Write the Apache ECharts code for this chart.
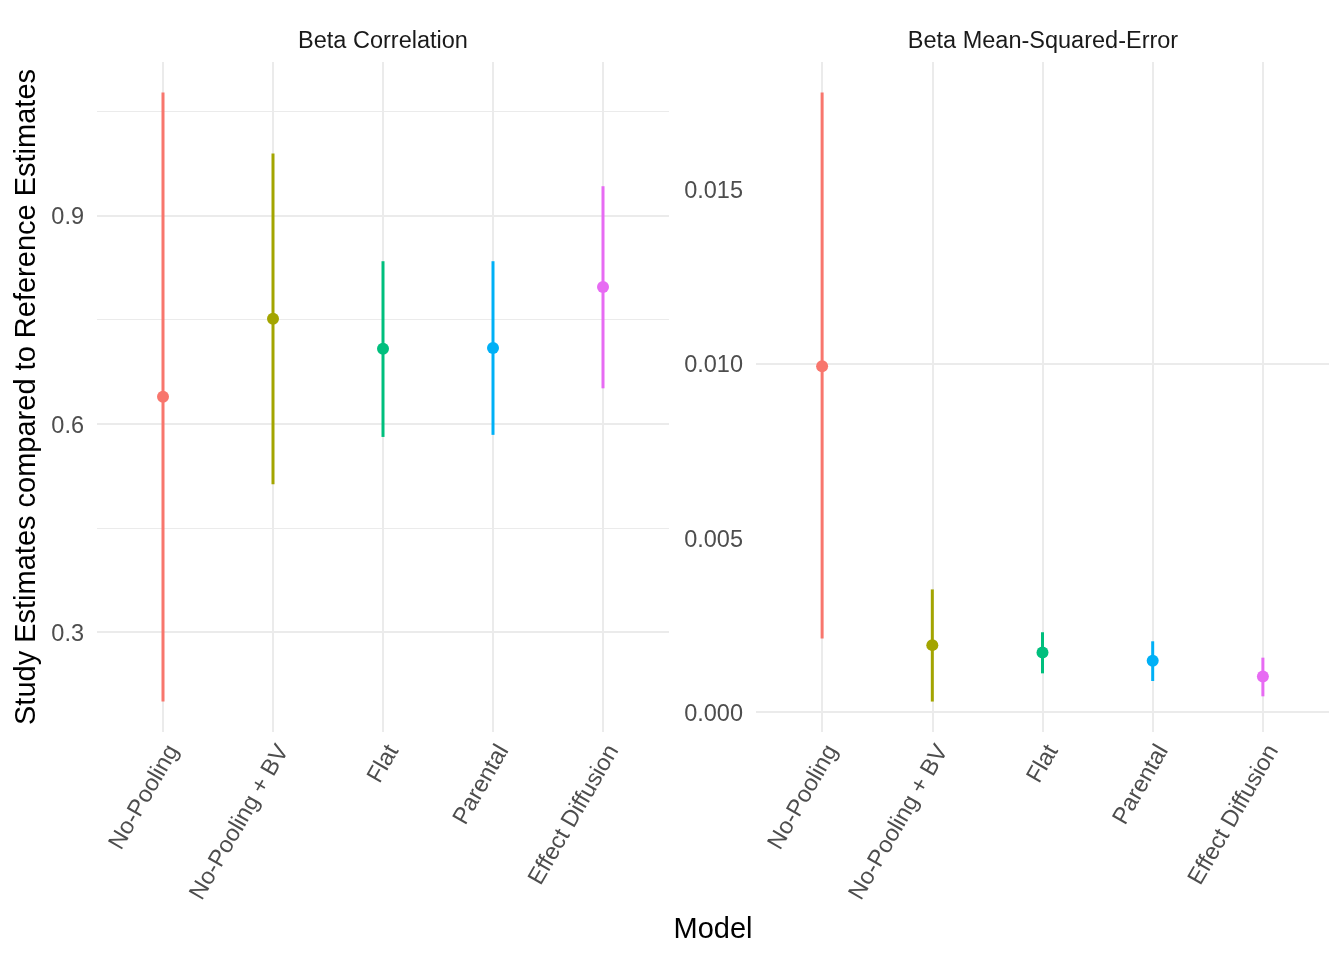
<!DOCTYPE html>
<html>
<head>
<meta charset="utf-8">
<script src="https://cdn.jsdelivr.net/npm/echarts@6/dist/echarts.min.js"></script>
<style>
  html, body { margin: 0; padding: 0; background: #fff; }
  #main { width: 1344px; height: 960px; }
</style>
</head>
<body>
<div id="main"></div>
<script>
// models, in facet order
var categories = ['No-Pooling', 'No-Pooling + BV', 'Flat', 'Parental', 'Effect Diffusion'];
var modelColors = ['#F8766D', '#A3A500', '#00BF7D', '#00B0F6', '#E76BF3'];

// Beta Correlation panel
var corrEst = [0.639, 0.751, 0.708, 0.709, 0.797];
var corrLo  = [0.200, 0.513, 0.581, 0.584, 0.651];
var corrHi  = [1.077, 0.989, 0.834, 0.834, 0.942];
var corrTicks = [0.3, 0.6, 0.9];
var corrMinor = [0.45, 0.75, 1.05];

// Beta Mean-Squared-Error panel
var mseEst = [0.00992, 0.00191, 0.00170, 0.00146, 0.00101];
var mseLo  = [0.00210, 0.00029, 0.00110, 0.00088, 0.00044];
var mseHi  = [0.01778, 0.00351, 0.00228, 0.00202, 0.00155];
var mseTicks = [0, 0.005, 0.010, 0.015];
var mseMinor = [0.0025, 0.0075, 0.0125, 0.0175];

var FONT = 'Liberation Sans';
var GRID_COLOR = '#EBEBEB';

// ggplot style 5% padding on the y range
function paddedRange(lo, hi) {
    var mn = Math.min.apply(null, lo), mx = Math.max.apply(null, hi);
    var pad = (mx - mn) * 0.05;
    return [mn - pad, mx + pad];
}

// grid lines as markLines so they do not depend on axis tick counting
function gridLines(major, minor) {
    var data = [];
    major.forEach(function (v) { data.push({ yAxis: v, lineStyle: { width: 2 } }); });
    minor.forEach(function (v) { data.push({ yAxis: v, lineStyle: { width: 1.1 } }); });
    categories.forEach(function (c, i) { data.push({ xAxis: i + 1, lineStyle: { width: 2 } }); });
    return {
        silent: true,
        symbol: 'none',
        z: 1,
        label: { show: false },
        lineStyle: { color: GRID_COLOR, type: 'solid' },
        emphasis: { disabled: true },
        animation: false,
        data: data
    };
}

function rangeSeries(idx, lo, hi, major, minor) {
    return {
        type: 'custom',
        xAxisIndex: idx,
        yAxisIndex: idx,
        z: 3,
        silent: true,
        encode: { x: 0, y: [1, 2] },
        data: categories.map(function (c, i) { return [i + 1, lo[i], hi[i]]; }),
        renderItem: function (params, api) {
            var p1 = api.coord([api.value(0), api.value(1)]);
            var p2 = api.coord([api.value(0), api.value(2)]);
            return {
                type: 'line',
                shape: { x1: p1[0], y1: p1[1], x2: p2[0], y2: p2[1] },
                style: { stroke: modelColors[params.dataIndex], lineWidth: 3 }
            };
        },
        markLine: gridLines(major, minor)
    };
}

function pointSeries(idx, est) {
    return {
        type: 'scatter',
        xAxisIndex: idx,
        yAxisIndex: idx,
        z: 4,
        symbolSize: 12,
        silent: true,
        data: categories.map(function (c, i) { return [i + 1, est[i]]; }),
        itemStyle: { opacity: 1, color: function (p) { return modelColors[p.dataIndex]; } }
    };
}

function xAxisFor(idx) {
    return {
        type: 'value',
        gridIndex: idx,
        min: 0.4,
        max: categories.length + 0.6,
        axisLine: { show: false },
        axisTick: { show: false },
        splitLine: { show: false },
        axisLabel: {
            customValues: categories.map(function (c, i) { return i + 1; }),
            formatter: function (v) { return categories[Math.round(v) - 1]; },
            rotate: 60,
            align: 'right',
            verticalAlign: 'top',
            margin: 9,
            fontFamily: FONT,
            fontSize: 23.5,
            color: '#4D4D4D'
        }
    };
}

function yAxisFor(idx, range, ticks, digits) {
    return {
        type: 'value',
        gridIndex: idx,
        min: range[0],
        max: range[1],
        axisLine: { show: false },
        axisTick: { show: false },
        splitLine: { show: false },
        axisLabel: {
            customValues: ticks,
            formatter: function (v) { return '{t|' + v.toFixed(digits) + '}'; },
            margin: 13,
            rich: {
                t: {
                    padding: [5, 0, 0, 0],
                    fontFamily: FONT,
                    fontSize: 23.5,
                    color: '#4D4D4D'
                }
            }
        }
    };
}

var chartDom = document.getElementById('main');
var myChart = echarts.init(chartDom, null, { renderer: 'canvas' });

var option = {
    backgroundColor: '#fff',
    animation: false,
    grid: [
        { left: 97, top: 62, width: 572, height: 670 },
        { left: 756, top: 62, width: 573, height: 670 }
    ],
    xAxis: [xAxisFor(0), xAxisFor(1)],
    yAxis: [
        yAxisFor(0, paddedRange(corrLo, corrHi), corrTicks, 1),
        yAxisFor(1, paddedRange(mseLo, mseHi), mseTicks, 3)
    ],
    series: [
        rangeSeries(0, corrLo, corrHi, corrTicks, corrMinor),
        pointSeries(0, corrEst),
        rangeSeries(1, mseLo, mseHi, mseTicks, mseMinor),
        pointSeries(1, mseEst)
    ],
    graphic: [
        { type: 'text', x: 383, y: 42, style: { text: 'Beta Correlation', fontFamily: FONT, fontSize: 23.5, fill: '#1A1A1A', align: 'center', verticalAlign: 'middle' } },
        { type: 'text', x: 1043, y: 42, style: { text: 'Beta Mean-Squared-Error', fontFamily: FONT, fontSize: 23.5, fill: '#1A1A1A', align: 'center', verticalAlign: 'middle' } },
        { type: 'text', x: 713, y: 930, style: { text: 'Model', fontFamily: FONT, fontSize: 29, fill: '#000', align: 'center', verticalAlign: 'middle' } },
        { type: 'text', x: 27, y: 397, rotation: Math.PI / 2, style: { text: 'Study Estimates compared to Reference Estimates', fontFamily: FONT, fontSize: 29, fill: '#000', align: 'center', verticalAlign: 'middle' } }
    ]
};

myChart.setOption(option);
</script>
</body>
</html>
